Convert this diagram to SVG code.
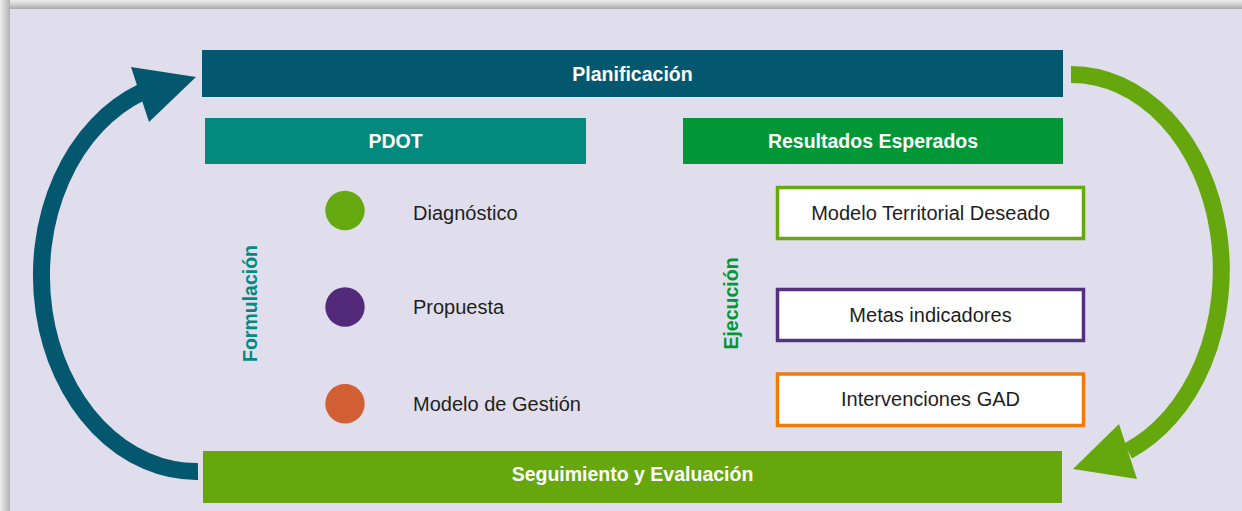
<svg xmlns="http://www.w3.org/2000/svg" width="1242" height="511" viewBox="0 0 1242 511">
<defs>
<linearGradient id="gTop" x1="0" y1="0" x2="0" y2="1"><stop offset="0" stop-color="#ececec"/><stop offset="0.4" stop-color="#d6d6d6"/><stop offset="1" stop-color="#a9a9a9"/></linearGradient>
<linearGradient id="gLeft" x1="0" y1="0" x2="1" y2="0"><stop offset="0" stop-color="#ececec"/><stop offset="0.4" stop-color="#d6d6d6"/><stop offset="1" stop-color="#b0b0b0"/></linearGradient>
<style>
.hdr{font-family:"Liberation Sans",Arial,sans-serif;font-weight:bold;font-size:19.5px;fill:#ffffff;text-anchor:middle}
.lbl{font-family:"Liberation Sans",Arial,sans-serif;font-size:20px;fill:#1e1e1e}
.box{fill:#ffffff;stroke-width:3.5}
.vt{font-family:"Liberation Sans",Arial,sans-serif;font-weight:bold;font-size:19.5px;text-anchor:middle}
</style>
</defs>
<rect x="0" y="0" width="1242" height="511" fill="#d4d4d4"/>
<rect x="0" y="0" width="1242" height="9" fill="url(#gTop)"/>
<rect x="0" y="0" width="10" height="511" fill="url(#gLeft)"/>
<rect x="10" y="9" width="1232" height="502" fill="#e0deec"/>

<g id="connectors">
<path d="M198,471.5 A155,196 0 0 1 142,92" fill="none" stroke="#03586f" stroke-width="17"/>
<polygon points="196,77 131,67 149,122" fill="#03586f"/>
<path d="M1071,74.5 A150,195.5 0 0 1 1128,451" fill="none" stroke="#66a70e" stroke-width="17"/>
<polygon points="1073,469 1119,424 1137,479" fill="#66a70e"/>
</g>

<g id="planificacion">
<rect x="202" y="50" width="861" height="47" fill="#03586f"/>
<text class="hdr" x="632.5" y="80.5">Planificación</text>
</g>
<g id="pdot">
<rect x="205" y="118" width="381" height="46" fill="#038a7f"/>
<text class="hdr" x="395.5" y="148">PDOT</text>
</g>
<g id="resultados">
<rect x="683" y="118" width="380" height="46" fill="#019737"/>
<text class="hdr" x="873" y="148">Resultados Esperados</text>
</g>
<g id="seguimiento">
<rect x="203" y="451" width="859" height="52" fill="#66a70e"/>
<text class="hdr" x="632.5" y="480.5">Seguimiento y Evaluación</text>
</g>

<g id="formulacion">
<text class="vt" fill="#038a7f" transform="translate(257,303.5) rotate(-90)" x="0" y="0">Formulación</text>
</g>
<g id="ejecucion">
<text class="vt" fill="#019737" transform="translate(738,303.5) rotate(-90)" x="0" y="0">Ejecución</text>
</g>

<g id="diagnostico">
<circle cx="345" cy="210.5" r="19.7" fill="#65a80f"/>
<text class="lbl" x="413" y="220">Diagnóstico</text>
</g>
<g id="propuesta">
<circle cx="345" cy="307" r="19.7" fill="#532a7a"/>
<text class="lbl" x="413" y="314">Propuesta</text>
</g>
<g id="modelo-gestion">
<circle cx="345" cy="403.7" r="19.7" fill="#d25e34"/>
<text class="lbl" x="413" y="411">Modelo de Gestión</text>
</g>

<g id="modelo-territorial">
<rect class="box" x="777.5" y="187.5" width="306" height="51" stroke="#66a80e"/>
<text class="lbl" x="930.5" y="220" text-anchor="middle">Modelo Territorial Deseado</text>
</g>
<g id="metas">
<rect class="box" x="777.5" y="289.5" width="306" height="51" stroke="#55307e"/>
<text class="lbl" x="930.5" y="321.5" text-anchor="middle">Metas indicadores</text>
</g>
<g id="intervenciones">
<rect class="box" x="777.5" y="374" width="306" height="51.5" stroke="#f07b0b"/>
<text class="lbl" x="930.5" y="406" text-anchor="middle">Intervenciones GAD</text>
</g>
</svg>
